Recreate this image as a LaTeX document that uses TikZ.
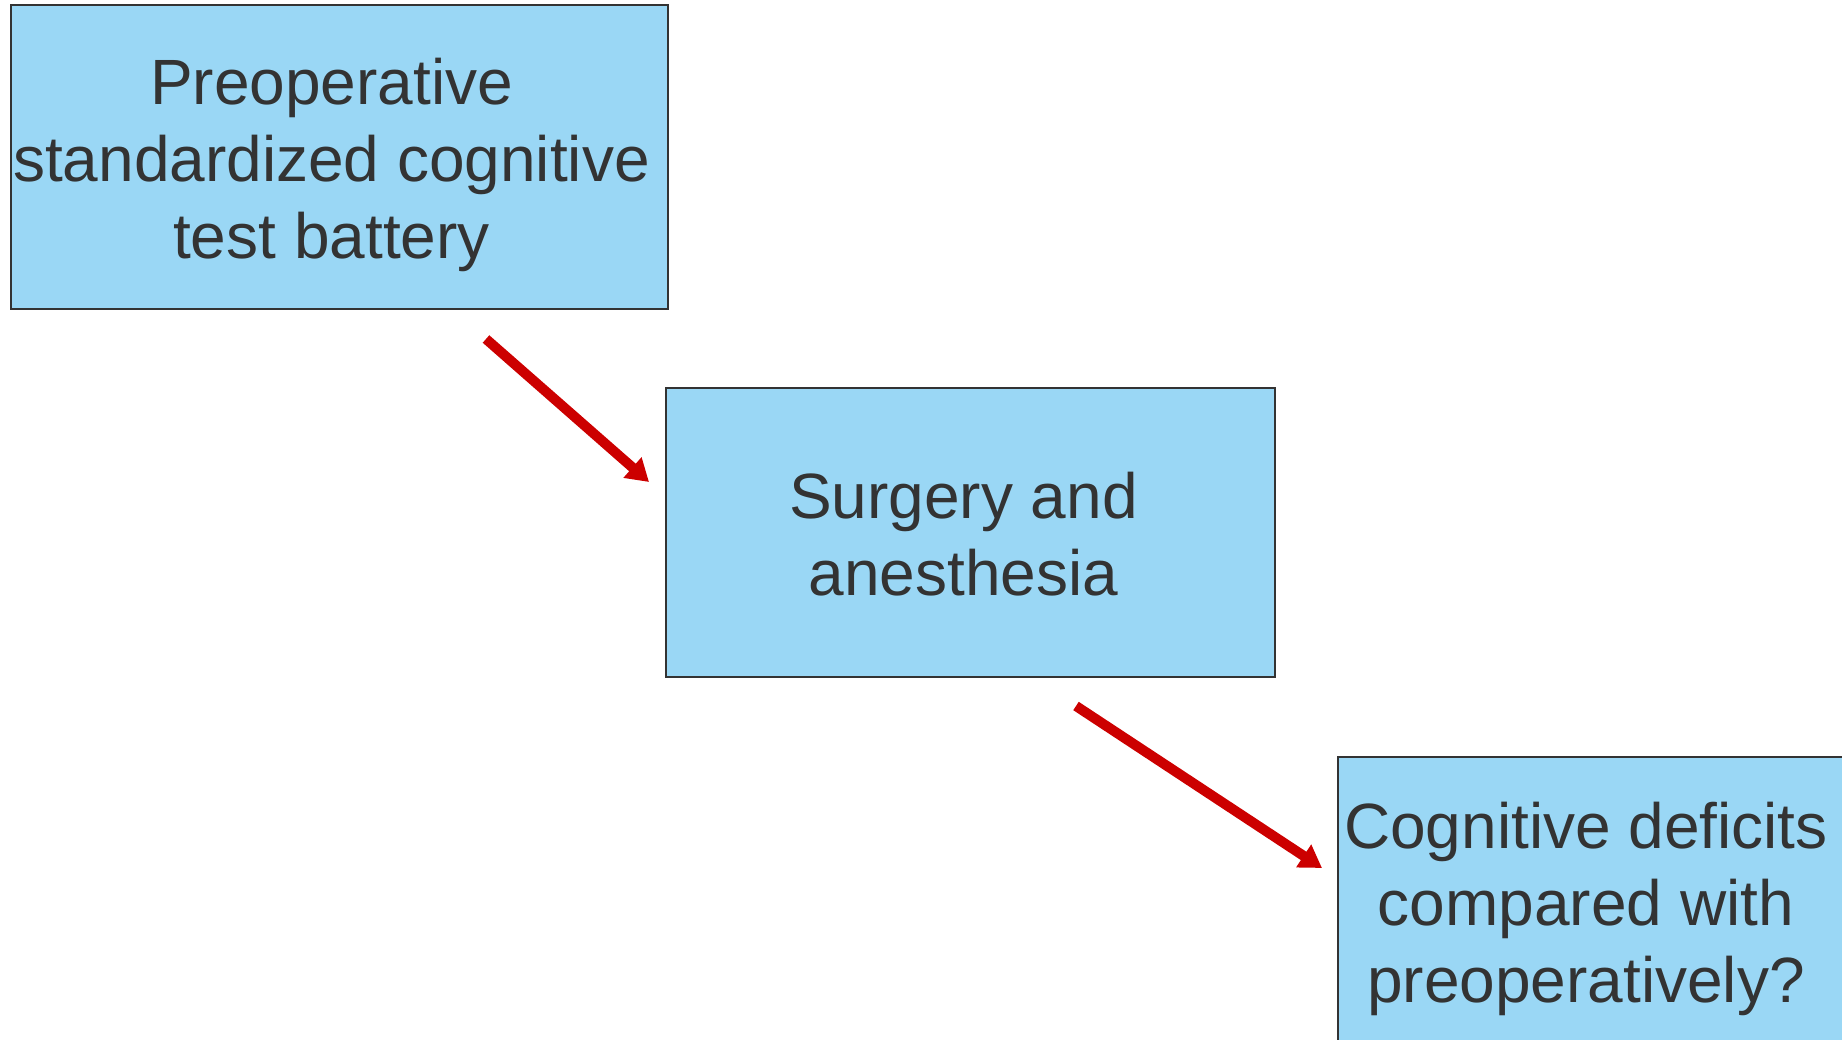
\documentclass[tikz,border=0pt]{standalone}
\usepackage{fontspec}
\setmainfont{Liberation Sans}
\usetikzlibrary{arrows.meta}
\definecolor{boxblue}{HTML}{9AD7F5}
\definecolor{textgray}{HTML}{333333}
\definecolor{arrowred}{HTML}{CC0000}

\begin{document}
\begin{tikzpicture}[x=1pt,y=-1pt,
  stagebox/.style={draw=textgray, line width=2pt, fill=boxblue},
  stagetext/.style={text=textgray, align=center, inner sep=0pt,
    font=\fontsize{64}{77}\selectfont},
  flowarrow/.style={arrowred, line width=10pt, -{Triangle[length=22pt,width=26pt]}}]
\useasboundingbox (0,0) rectangle (1842,1040);

% text sits a bit left of and below each box centre
\node[stagebox, minimum width=657pt, minimum height=304pt,
  label={[stagetext, xshift=-8pt, yshift=-8pt]center:Preoperative\\standardized cognitive\\test battery}]
  (pretest) at (339.5,157) {};
\node[stagebox, minimum width=609pt, minimum height=289pt,
  label={[stagetext, xshift=-7pt, yshift=-2pt]center:Surgery and\\anesthesia}]
  (surgery) at (970.5,532.5) {};
\node[stagebox, minimum width=508pt, minimum height=290pt,
  label={[stagetext, xshift=-6pt, yshift=-7pt]center:Cognitive deficits\\compared with\\preoperatively?}]
  (deficits) at (1592,902) {};

% arrow ends sit a little off the boxes
\coordinate (start_1) at ([shift={(476,29)}] pretest.south west);
\coordinate (end_1) at ([shift={(-16,95)}] surgery.north west);
\coordinate (start_2) at ([shift={(411,28)}] surgery.south west);
\coordinate (end_2) at ([shift={(-15,112)}] deficits.north west);

\draw[flowarrow] (start_1) -- (end_1);
\draw[flowarrow] (start_2) -- (end_2);

\end{tikzpicture}
\end{document}
